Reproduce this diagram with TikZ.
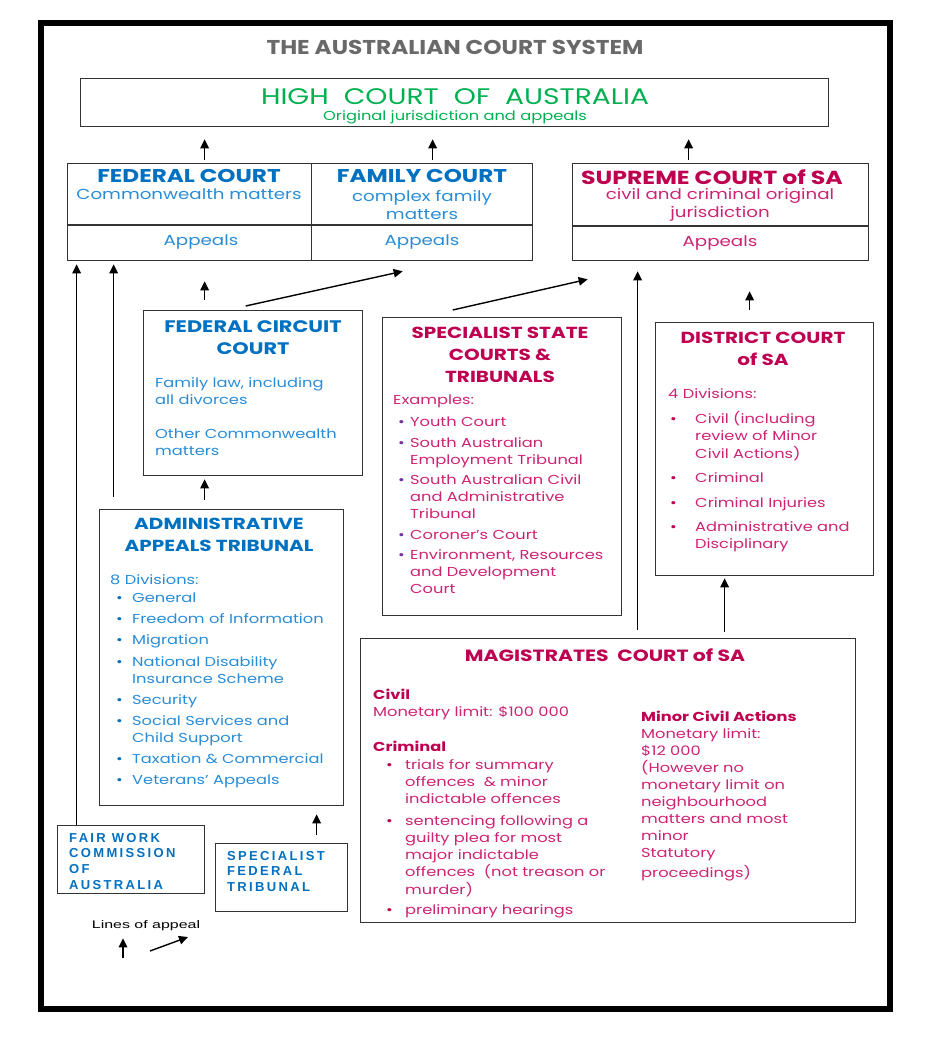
\documentclass[tikz,border=0pt]{standalone}
\usepackage{fontspec}
\setmainfont{Poppins}
\newfontfamily\gothic{Poppins}[FakeStretch=1.25]
\newfontfamily\arial{Liberation Sans}
\usetikzlibrary{arrows.meta}
\definecolor{fedblue}{RGB}{0,112,192}
\definecolor{fedtext}{RGB}{40,140,215}
\definecolor{statered}{RGB}{190,0,80}
\definecolor{statetext}{RGB}{205,35,115}
\definecolor{hcgreen}{RGB}{0,176,80}
\definecolor{titlegray}{RGB}{105,105,105}
\definecolor{bulletpurple}{RGB}{112,48,160}
\newcommand\rows[1]{\begin{tabular}{@{}l@{}l@{}}#1\end{tabular}}
\newcommand\pb{\makebox[12pt][l]{\textcolor{bulletpurple}{•}}}
\newcommand\rb{\makebox[25pt][l]{\textcolor{statered}{•}}}
\newcommand\bb{\makebox[16pt][l]{\textcolor{fedblue}{•}}}
\newcommand\mb{\makebox[19pt][l]{\textcolor{statered}{•}}}

\begin{document}
\begin{tikzpicture}[x=1pt,y=-1pt,
    court/.style={draw=black!80, line width=1.3pt, inner sep=0pt, anchor=north west},
    appeal/.style={-{Triangle[length=9pt,width=8.5pt]}, line width=1.4pt},
    heading/.style={inner sep=0pt, font=\gothic\bfseries\fontsize{16}{22}\selectfont},
    topbody/.style={inner sep=0pt, font=\gothic\fontsize{14.6}{18}\selectfont},
    body/.style={inner sep=0pt, font=\gothic\fontsize{13}{17}\selectfont},
    tribunal/.style={inner sep=0pt, anchor=north west, align=left, text=fedblue,
      font=\arial\bfseries\fontsize{13}{15.7}\selectfont\addfontfeature{LetterSpace=18}}]
  \useasboundingbox (0,0) rectangle (926,1044);
  \draw[line width=6pt] (41,23) rectangle (890,1009);
  \node[inner sep=0pt, text=titlegray, font=\bfseries\fontsize{20}{24}\selectfont] (title) at (455,47) {\scalebox{1.16}[1]{THE AUSTRALIAN COURT SYSTEM}};

  % the courts
  \node[court, minimum width=748pt, minimum height=48pt] (high) at (80,78) {};
  \node[court, minimum width=244pt, minimum height=97pt] (fedcourt) at (67,163) {};
  \node[court, minimum width=221pt, minimum height=97pt] (famcourt) at (311,163) {};
  \node[court, minimum width=296pt, minimum height=97pt] (supreme) at (572,163) {};
  \node[court, minimum width=219pt, minimum height=165pt] (fcc) at (143,310) {};
  \node[court, minimum width=239pt, minimum height=298pt] (sst) at (382,317) {};
  \node[court, minimum width=218pt, minimum height=253pt] (district) at (655,322) {};
  \node[court, minimum width=244pt, minimum height=296pt] (aat) at (99,509) {};
  \node[court, minimum width=495pt, minimum height=284pt] (magistrates) at (360,638) {};
  \node[court, minimum width=147pt, minimum height=68pt] (fwc) at (57,825) {};
  \node[court, minimum width=132pt, minimum height=68pt] (sft) at (215,843) {};
  \draw[line width=1.3pt, black!80] (fedcourt.west |- 0,225) -- (famcourt.east |- 0,225);
  \draw[line width=1.3pt, black!80] (supreme.west |- 0,226) -- (supreme.east |- 0,226);

  % high court
  \node[inner sep=0pt, text=hcgreen, font=\gothic\fontsize{22.5}{26}\selectfont] (hcname) at (455,97) {HIGH\ \ COURT\ \ OF\ \ AUSTRALIA};
  \node[inner sep=0pt, text=hcgreen, font=\gothic\fontsize{13}{15}\selectfont] (hcsub) at (455,117) {Original jurisdiction and appeals};

  % federal and family court
  \node[heading, text=fedblue, font=\gothic\bfseries\fontsize{18.5}{22}\selectfont] (fedname) at (189,176) {FEDERAL COURT};
  \node[topbody, text=fedtext] at (189,194) {Commonwealth matters};
  \node[heading, text=fedblue, font=\gothic\bfseries\fontsize{18.5}{22}\selectfont] (famname) at (422,176) {FAMILY COURT};
  \node[topbody, text=fedtext, align=center] at (422,205) {complex family\\matters};
  \node[topbody, text=fedtext] at (201,242) {Appeals};
  \node[topbody, text=fedtext] at (422,242) {Appeals};

  % supreme court
  \node[heading, text=statered, font=\gothic\bfseries\fontsize{18.9}{22}\selectfont] (supname) at (712,177) {SUPREME COURT of SA};
  \node[topbody, text=statetext, align=center] at (720,205) {civil and criminal original\\jurisdiction};
  \node[topbody, text=statetext] at (720,243) {Appeals};

  % federal circuit court
  \node[heading, text=fedblue, align=center, font=\gothic\bfseries\fontsize{16.7}{22}\selectfont] (fccname) at (253,337.5) {FEDERAL CIRCUIT\\COURT};
  \node[body, text=fedtext, anchor=north west] at (155,375.6) {\rows{Family law, including\\all divorces\\[17pt]Other Commonwealth\\matters}};

  % specialist state courts
  \node[heading, text=statered, align=center] (sstname) at (500,355) {SPECIALIST STATE\\COURTS \&\\TRIBUNALS};
  \node[body, text=statetext, anchor=west] at (393,401) {Examples:};
  \node[body, text=statetext, anchor=north west] at (398,414.6) {\rows{\pb&Youth Court\\[3.5pt]
    \pb&South Australian\\&Employment Tribunal\\[3.5pt]
    \pb&South Australian Civil\\&and Administrative\\&Tribunal\\[3.5pt]
    \pb&Coroner’s Court\\[3.5pt]
    \pb&Environment, Resources\\&and Development\\&Court}};

  % district court
  \node[heading, text=statered, align=center] (distname) at (763,349) {DISTRICT COURT\\of SA};
  \node[body, text=statetext, anchor=west] at (668,394) {4 Divisions:};
  \node[body, text=statetext, anchor=north west] at (670,411.6) {\rows{\rb&Civil (including\\&review of Minor\\&Civil Actions)\\[7.5pt]
    \rb&Criminal\\[7.5pt]
    \rb&Criminal Injuries\\[7.5pt]
    \rb&Administrative and\\&Disciplinary}};

  % administrative appeals tribunal
  \node[heading, text=fedblue, align=center] (aatname) at (219,535) {ADMINISTRATIVE\\APPEALS TRIBUNAL};
  \node[body, text=fedtext, anchor=west] at (110,580) {8 Divisions:};
  \node[body, text=fedtext, anchor=north west] at (116,590.6) {\rows{\bb&General\\[4.1pt]
    \bb&Freedom of Information\\[4.1pt]
    \bb&Migration\\[4.1pt]
    \bb&National Disability\\&Insurance Scheme\\[4.1pt]
    \bb&Security\\[4.1pt]
    \bb&Social Services and\\&Child Support\\[4.1pt]
    \bb&Taxation \& Commercial\\[4.1pt]
    \bb&Veterans’ Appeals}};

  % magistrates court
  \node[heading, text=statered, font=\gothic\bfseries\fontsize{16.3}{22}\selectfont] (magname) at (605,655) {MAGISTRATES\ \ COURT of SA};
  \node[body, text=statetext, anchor=north west] at (373,687.6) {\rows{\textcolor{statered}{\bfseries Civil}\\Monetary limit: \$100 000\\[18pt]
    \textcolor{statered}{\bfseries Criminal}}};
  \node[body, text=statetext, anchor=north west] at (386,757.6) {\rows{\mb&trials for summary\\&offences \ \& minor\\&indictable offences\\[5pt]
    \mb&sentencing following a\\&guilty plea for most\\&major indictable\\&offences \ (not treason or\\&murder)\\[3pt]
    \mb&preliminary hearings}};
  \node[body, text=statetext, anchor=north west] at (641,709.6) {\rows{\textcolor{statered}{\bfseries Minor Civil Actions}\\Monetary limit:\\\$12 000\\(However no\\monetary limit on\\neighbourhood\\matters and most\\minor\\Statutory\\[2pt]proceedings)}};

  % tribunals at the bottom
  \node[tribunal] (fwcname) at (69,833) {FAIR WORK\\COMMISSION\\OF\\AUSTRALIA};
  \node[tribunal] (sftname) at (227,851) {SPECIALIST\\FEDERAL\\TRIBUNAL};

  % lines of appeal
  \draw[appeal, shorten <=3pt, shorten >=12pt] ([xshift=15pt]fedcourt.north) -- ([xshift=15pt]fedcourt.north |- high.south);
  \draw[appeal, shorten <=3pt, shorten >=12pt] ([xshift=10.5pt]famcourt.north) -- ([xshift=10.5pt]famcourt.north |- high.south);
  \draw[appeal, shorten <=3pt, shorten >=12pt] ([xshift=-32pt]supreme.north) -- ([xshift=-32pt]supreme.north |- high.south);
  \draw[appeal, shorten <=10pt, shorten >=20pt] ([xshift=-48.5pt]fcc.north) -- ([xshift=-48.5pt]fcc.north |- fedcourt.south);
  \draw[appeal] ([xshift=-7.5pt,yshift=4pt]fcc.north) -- ([xshift=-19.5pt,yshift=-10pt]famcourt.south);
  \draw[appeal, shorten <=9pt, shorten >=3pt] ([xshift=-17pt]aat.north) -- ([xshift=-17pt]aat.north |- fcc.south);
  \draw[appeal, shorten <=12pt, shorten >=3pt] ([xshift=-108pt]aat.north) -- ([xshift=-108pt]aat.north |- fedcourt.south);
  \draw[appeal, shorten >=3pt] ([xshift=-54.5pt]fwc.north) -- ([xshift=-54.5pt]fwc.north |- fedcourt.south);
  \draw[appeal, shorten <=8pt, shorten >=8pt] ([xshift=35pt]sft.north) -- ([xshift=35pt]sft.north |- aat.south);
  \draw[appeal] ([xshift=-49.5pt,yshift=7pt]sst.north) -- ([xshift=-133pt,yshift=-18pt]supreme.south);
  \draw[appeal, shorten <=8pt, shorten >=10pt] ([xshift=29.5pt]magistrates.north) -- ([xshift=29.5pt]magistrates.north |- supreme.south);
  \draw[appeal, shorten <=12pt, shorten >=30pt] ([xshift=-15pt]district.north) -- ([xshift=-15pt]district.north |- supreme.south);
  \draw[appeal, shorten <=6pt, shorten >=2pt] ([xshift=116.5pt]magistrates.north) -- ([xshift=116.5pt]magistrates.north |- district.south);

  % key
  \node[inner sep=0pt, font=\arial\fontsize{11}{13}\selectfont] (key) at (146,926) {\scalebox{1.45}[1]{Lines of appeal}};
  \coordinate (keyup) at (123,958);
  \coordinate (keyslant) at (150,951);
  \draw[appeal] (keyup) -- ([yshift=-7pt]keyup |- key.south);
  \draw[appeal] (keyslant) -- ([xshift=38pt,yshift=14pt]keyslant);
\end{tikzpicture}
\end{document}
